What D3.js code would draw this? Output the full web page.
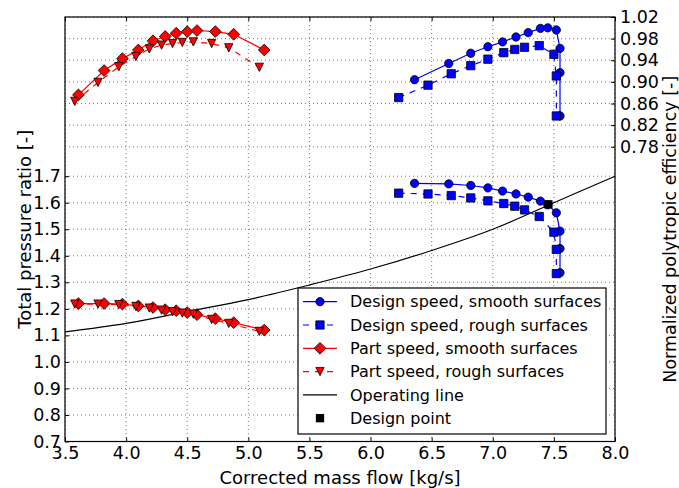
<!DOCTYPE html>
<html>
<head>
<meta charset="utf-8">
<script src="https://cdn.jsdelivr.net/npm/d3@7"></script>
<style>
    body { margin: 0; background: #fff; }
    #chart { width: 679px; height: 488px; }
</style>
</head>
<body>
<div id="chart"></div>
<script>

// Tick values
const massTicks = [3.5, 4.0, 4.5, 5.0, 5.5, 6.0, 6.5, 7.0, 7.5, 8.0];
const prTicks = [0.7, 0.8, 0.9, 1.0, 1.1, 1.2, 1.3, 1.4, 1.5, 1.6, 1.7];
const effTicks = [0.78, 0.82, 0.86, 0.90, 0.94, 0.98, 1.02];

// Design speed, smooth surfaces
const designSmoothMass = [6.36, 6.64, 6.82, 6.96, 7.08, 7.19, 7.29, 7.39, 7.45, 7.52, 7.55, 7.55, 7.55];
const designSmoothPR = [1.673, 1.671, 1.665, 1.656, 1.644, 1.633, 1.621, 1.606, 1.592, 1.562, 1.493, 1.427, 1.336];
const designSmoothEff = [0.904, 0.934, 0.953, 0.965, 0.974, 0.983, 0.991, 0.999, 1.000, 0.996, 0.962, 0.917, 0.837];

// Design speed, rough surfaces
const designRoughMass = [6.23, 6.47, 6.66, 6.82, 6.96, 7.09, 7.18, 7.26, 7.38, 7.50, 7.52, 7.52];
const designRoughPR = [1.636, 1.633, 1.627, 1.618, 1.607, 1.597, 1.587, 1.573, 1.548, 1.489, 1.424, 1.333];
const designRoughEff = [0.871, 0.894, 0.915, 0.930, 0.942, 0.954, 0.960, 0.964, 0.967, 0.951, 0.911, 0.837];

// Part speed, smooth surfaces
const partSmoothMass = [3.61, 3.82, 3.97, 4.10, 4.22, 4.32, 4.41, 4.50, 4.58, 4.73, 4.88, 5.13];
const partSmoothPR = [1.220, 1.220, 1.218, 1.211, 1.205, 1.197, 1.193, 1.186, 1.178, 1.163, 1.148, 1.120];
const partSmoothEff = [0.876, 0.921, 0.943, 0.959, 0.976, 0.984, 0.990, 0.993, 0.995, 0.993, 0.988, 0.959];

// Part speed, rough surfaces
const partRoughMass = [3.58, 3.77, 3.94, 4.08, 4.19, 4.29, 4.38, 4.46, 4.55, 4.70, 4.84, 5.09];
const partRoughPR = [1.218, 1.218, 1.216, 1.209, 1.203, 1.195, 1.189, 1.184, 1.180, 1.160, 1.145, 1.115];
const partRoughEff = [0.864, 0.899, 0.928, 0.947, 0.961, 0.968, 0.971, 0.973, 0.974, 0.971, 0.963, 0.927];

// Operating line
const opLineMass = [3.5, 4.0, 4.5, 5.0, 5.5, 6.0, 6.5, 7.0, 7.5, 8.0];
const opLinePR = [1.113, 1.145, 1.190, 1.235, 1.290, 1.350, 1.420, 1.500, 1.600, 1.700];

// Design point
const designPointMass = [7.455];
const designPointPR = [1.594];


class CompressorMap {

    constructor(parentElement) {
        this.parentElement = parentElement;
        this.initVis();
    }

    initVis() {
        let vis = this;

        vis.margin = {top: 17, right: 64, bottom: 46.5, left: 65};
        vis.width = 679 - vis.margin.left - vis.margin.right;
        vis.height = 488 - vis.margin.top - vis.margin.bottom;

        vis.svg = d3.select("#" + vis.parentElement).append("svg")
            .attr("width", 679)
            .attr("height", 488)
            .attr("font-family", "'DejaVu Sans', sans-serif")
            .append("g")
            .attr("transform", "translate(" + vis.margin.left + "," + vis.margin.top + ")");

        // Scales: one x, pressure ratio on the left, efficiency on the right
        vis.x = d3.scaleLinear().domain([3.5, 8.0]).range([0, vis.width]);
        vis.yPR = d3.scaleLinear().domain([0.7, 2.3]).range([vis.height, 0]);
        vis.yEff = d3.scaleLinear().domain([0.235, 1.02]).range([vis.height, 0]);

        // Dotted grid
        let grid = vis.svg.append("g")
            .attr("stroke", "#000")
            .attr("stroke-width", 0.7)
            .attr("stroke-dasharray", "1,3")
            .attr("opacity", 0.75);

        grid.selectAll(".vgrid").data(massTicks).enter().append("line")
            .attr("x1", d => vis.x(d)).attr("x2", d => vis.x(d))
            .attr("y1", 0).attr("y2", vis.height);

        grid.selectAll(".hgrid-pr").data(prTicks).enter().append("line")
            .attr("x1", 0).attr("x2", vis.width)
            .attr("y1", d => vis.yPR(d)).attr("y2", d => vis.yPR(d));

        grid.selectAll(".hgrid-eff").data(effTicks).enter().append("line")
            .attr("x1", 0).attr("x2", vis.width)
            .attr("y1", d => vis.yEff(d)).attr("y2", d => vis.yEff(d));

        // Operating line
        vis.svg.append("path")
            .datum(d3.zip(opLineMass, opLinePR))
            .attr("fill", "none")
            .attr("stroke", "#000")
            .attr("stroke-width", 1.2)
            .attr("d", d3.line()
                .x(d => vis.x(d[0]))
                .y(d => vis.yPR(d[1]))
                .curve(d3.curveMonotoneX));

        // Series (each drawn twice: pressure ratio and efficiency)
        vis.series = [
            {label: "Design speed, smooth surfaces", mass: designSmoothMass, pr: designSmoothPR, eff: designSmoothEff, color: "#0000ff", dash: null, marker: "circle"},
            {label: "Design speed, rough surfaces", mass: designRoughMass, pr: designRoughPR, eff: designRoughEff, color: "#0000ff", dash: "6,6", marker: "square"},
            {label: "Part speed, smooth surfaces", mass: partSmoothMass, pr: partSmoothPR, eff: partSmoothEff, color: "#ff0000", dash: null, marker: "diamond"},
            {label: "Part speed, rough surfaces", mass: partRoughMass, pr: partRoughPR, eff: partRoughEff, color: "#ff0000", dash: "6,6", marker: "triangle"}
        ];

        vis.series.forEach(function (s) {
            [[s.pr, vis.yPR], [s.eff, vis.yEff]].forEach(function (pair) {
                let pts = d3.zip(s.mass, pair[0]);
                let yScale = pair[1];

                vis.svg.append("path")
                    .datum(pts)
                    .attr("fill", "none")
                    .attr("stroke", s.color)
                    .attr("stroke-width", 1.2)
                    .attr("stroke-dasharray", s.dash)
                    .attr("d", d3.line()
                        .x(d => vis.x(d[0]))
                        .y(d => yScale(d[1])));

                vis.svg.selectAll(null).data(pts).enter().append("path")
                    .attr("d", vis.markerPath(s.marker))
                    .attr("transform", d => "translate(" + vis.x(d[0]) + "," + yScale(d[1]) + ")")
                    .attr("fill", s.color)
                    .attr("stroke", "#000")
                    .attr("stroke-width", 0.8);
            });
        });

        // Design point
        vis.svg.selectAll(null).data(d3.zip(designPointMass, designPointPR)).enter().append("path")
            .attr("d", vis.markerPath("square"))
            .attr("transform", d => "translate(" + vis.x(d[0]) + "," + vis.yPR(d[1]) + ")")
            .attr("fill", "#000");

        // Frame
        vis.svg.append("rect")
            .attr("width", vis.width)
            .attr("height", vis.height)
            .attr("fill", "none")
            .attr("stroke", "#000")
            .attr("stroke-width", 1.2);

        // Axes, ticks pointing inward
        vis.xAxis = d3.axisBottom(vis.x)
            .tickValues(massTicks)
            .tickFormat(d3.format(".1f"))
            .tickSizeInner(-4).tickSizeOuter(0).tickPadding(5);
        vis.xAxisTop = d3.axisTop(vis.x)
            .tickValues(massTicks)
            .tickFormat("")
            .tickSizeInner(-4).tickSizeOuter(0);
        vis.yAxisLeft = d3.axisLeft(vis.yPR)
            .tickValues(prTicks)
            .tickFormat(d3.format(".1f"))
            .tickSizeInner(-4).tickSizeOuter(0).tickPadding(4);
        vis.yAxisRight = d3.axisRight(vis.yEff)
            .tickValues(effTicks)
            .tickFormat(d3.format(".2f"))
            .tickSizeInner(-4).tickSizeOuter(0).tickPadding(5);

        let axes = [
            vis.svg.append("g").attr("transform", "translate(0," + vis.height + ")").call(vis.xAxis),
            vis.svg.append("g").call(vis.xAxisTop),
            vis.svg.append("g").call(vis.yAxisLeft),
            vis.svg.append("g").attr("transform", "translate(" + vis.width + ",0)").call(vis.yAxisRight)
        ];
        axes.forEach(function (g) {
            g.attr("font-family", "'DejaVu Sans', sans-serif").attr("font-size", 17.5);
            g.select(".domain").remove();
            g.selectAll("text").attr("fill", "#000");
            g.selectAll("line").attr("stroke", "#000");
        });

        // Axis titles
        vis.svg.append("text")
            .attr("x", vis.width / 2)
            .attr("y", 467)
            .attr("text-anchor", "middle")
            .attr("font-size", 18)
            .text("Corrected mass flow [kg/s]");

        vis.svg.append("text")
            .attr("transform", "translate(" + (31 - vis.margin.left) + "," + vis.height / 2 + ") rotate(-90)")
            .attr("text-anchor", "middle")
            .attr("font-size", 18)
            .text("Total pressure ratio [-]");

        vis.svg.append("text")
            .attr("transform", "translate(" + (675.5 - vis.margin.left) + "," + vis.height / 2 + ") rotate(-90)")
            .attr("text-anchor", "middle")
            .attr("font-size", 17.5)
            .text("Normalized polytropic efficiency [-]");

        // Legend
        let legend = vis.svg.append("g")
            .attr("transform", "translate(" + (298 - vis.margin.left) + "," + (288 - vis.margin.top) + ")");

        legend.append("rect")
            .attr("width", 308)
            .attr("height", 146)
            .attr("fill", "#fff")
            .attr("stroke", "#000")
            .attr("stroke-width", 1.2);

        let entries = vis.series.map(s => ({label: s.label, color: s.color, dash: s.dash, marker: s.marker, line: true}));
        entries.push({label: "Operating line", color: "#000", dash: null, marker: null, line: true});
        entries.push({label: "Design point", color: "#000", dash: null, marker: "square", line: false});

        entries.forEach(function (e, i) {
            let row = legend.append("g")
                .attr("transform", "translate(0," + (13.7 + i * 23.3) + ")");

            if (e.line) {
                row.append("line")
                    .attr("x1", 5).attr("x2", 39)
                    .attr("stroke", e.color)
                    .attr("stroke-width", 1.2)
                    .attr("stroke-dasharray", e.dash);
            }
            if (e.marker) {
                row.append("path")
                    .attr("d", vis.markerPath(e.marker))
                    .attr("transform", "translate(22,0)")
                    .attr("fill", e.color)
                    .attr("stroke", e.line ? "#000" : "none")
                    .attr("stroke-width", 0.8);
            }
            row.append("text")
                .attr("x", 52)
                .attr("dy", "0.36em")
                .attr("font-size", 16)
                .text(e.label);
        });
    }

    markerPath(type) {
        let s = 8.3;
        if (type === "circle") return d3.symbol(d3.symbolCircle, Math.PI * (s / 2) * (s / 2))();
        if (type === "square") return d3.symbol(d3.symbolSquare, s * s)();
        if (type === "diamond") {
            let h = s * 0.707;
            return "M0," + (-h) + "L" + h + ",0L0," + h + "L" + (-h) + ",0Z";
        }
        let h = s / 2;
        return "M" + (-h) + "," + (-h) + "L" + h + "," + (-h) + "L0," + h + "Z";
    }
}

new CompressorMap("chart");

</script>
</body>
</html>
